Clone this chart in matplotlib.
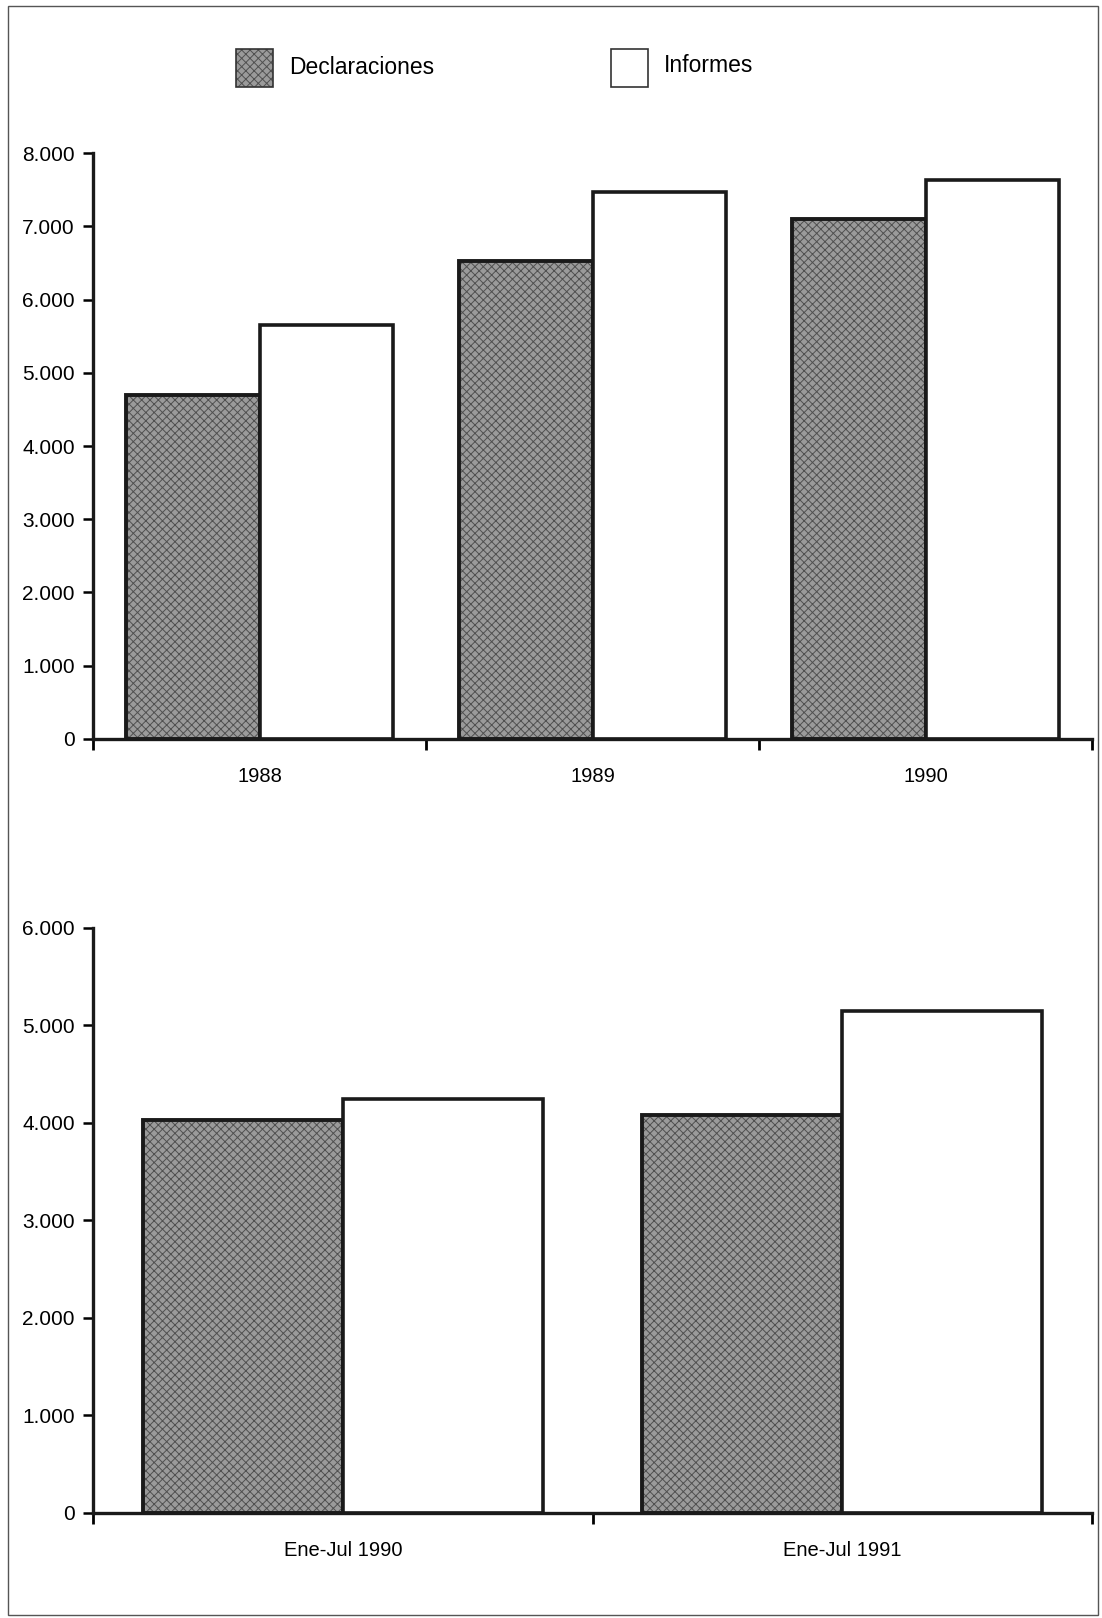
import matplotlib
matplotlib.use('Agg')
import matplotlib.pyplot as plt
import numpy as np
from matplotlib.patches import Rectangle
from matplotlib.ticker import FuncFormatter

plt.rcParams['font.family'] = ['Liberation Sans Narrow', 'Liberation Sans', 'DejaVu Sans']
plt.rcParams['hatch.linewidth'] = 0.7

# data
years = ['1988', '1989', '1990']
declaraciones = [4700, 6520, 7100]
informes = [5650, 7470, 7630]

periods = ['Ene-Jul 1990', 'Ene-Jul 1991']
declaraciones_ej = [4030, 4080]
informes_ej = [4250, 5150]

series_names = ['Declaraciones', 'Informes']

GRAY = '#9a9a9a'
HATCH_COL = '#505050'


def miles(v, pos):
    return f'{int(v):,}'.replace(',', '.')


def draw_panel(ax, cats, decl, inf, ymax, ystep):
    n = len(cats)
    x = np.arange(n) + 0.5
    # hatch colour follows edgecolor, so outline is drawn again on top
    ax.bar(x - 0.2, decl, width=0.4, color=GRAY, edgecolor=HATCH_COL,
           linewidth=0, hatch='xxxx', zorder=2)
    ax.bar(x - 0.2, decl, width=0.4, fill=False, edgecolor='#1a1a1a',
           linewidth=2.8, zorder=3)
    ax.bar(x + 0.2, inf, width=0.4, color='white', edgecolor='#1a1a1a',
           linewidth=2.6, zorder=3)

    ax.set_xlim(0, n)
    ax.set_ylim(0, ymax)
    ax.set_yticks(np.arange(0, ymax + 1, ystep))
    ax.yaxis.set_major_formatter(FuncFormatter(miles))
    ax.set_xticks(np.arange(0, n + 1))
    ax.set_xticklabels([''] * (n + 1))
    ax.set_xticks(x, minor=True)
    ax.set_xticklabels(cats, minor=True)
    ax.tick_params(axis='x', which='major', direction='out', length=8, width=2)
    ax.tick_params(axis='x', which='minor', length=0, pad=20, labelsize=14.5)
    ax.tick_params(axis='y', direction='out', length=7, width=1.8, labelsize=15, pad=6)
    for s in ['top', 'right']:
        ax.spines[s].set_visible(False)
    for s in ['left', 'bottom']:
        ax.spines[s].set_linewidth(2.4)
        ax.spines[s].set_color('#1a1a1a')
        ax.spines[s].set_zorder(4)


fig = plt.figure(figsize=(11.02, 16.18), dpi=100)

ax1 = fig.add_axes([0.0844, 0.5433, 0.9066, 0.3621])
draw_panel(ax1, years, declaraciones, informes, 8000, 1000)

ax2 = fig.add_axes([0.0844, 0.0649, 0.9066, 0.3616])
draw_panel(ax2, periods, declaraciones_ej, informes_ej, 6000, 1000)

# legend drawn as boxes + text in figure coords
W, H = 1102, 1618
fig.patches.append(Rectangle((236 / W, 1 - 87 / H), 37 / W, 38 / H, transform=fig.transFigure,
                             facecolor=GRAY, edgecolor=HATCH_COL, hatch='xxxx', linewidth=0))
fig.patches.append(Rectangle((236 / W, 1 - 87 / H), 37 / W, 38 / H, transform=fig.transFigure,
                             fill=False, edgecolor='#333333', linewidth=1.2))
fig.patches.append(Rectangle((611 / W, 1 - 87 / H), 37 / W, 38 / H, transform=fig.transFigure,
                             facecolor='white', edgecolor='#333333', linewidth=1.2))
fig.text(289 / W, 1 - 67 / H, series_names[0], fontsize=16.5, va='center', ha='left')
fig.text(664 / W, 1 - 66 / H, series_names[1], fontsize=16.5, va='center', ha='left')

# page border
fig.patches.append(Rectangle((8 / W, 3 / H), 1090 / W, 1609 / H, transform=fig.transFigure,
                             fill=False, edgecolor='#555555', linewidth=1.0))

fig.savefig('out.png', dpi=100)
